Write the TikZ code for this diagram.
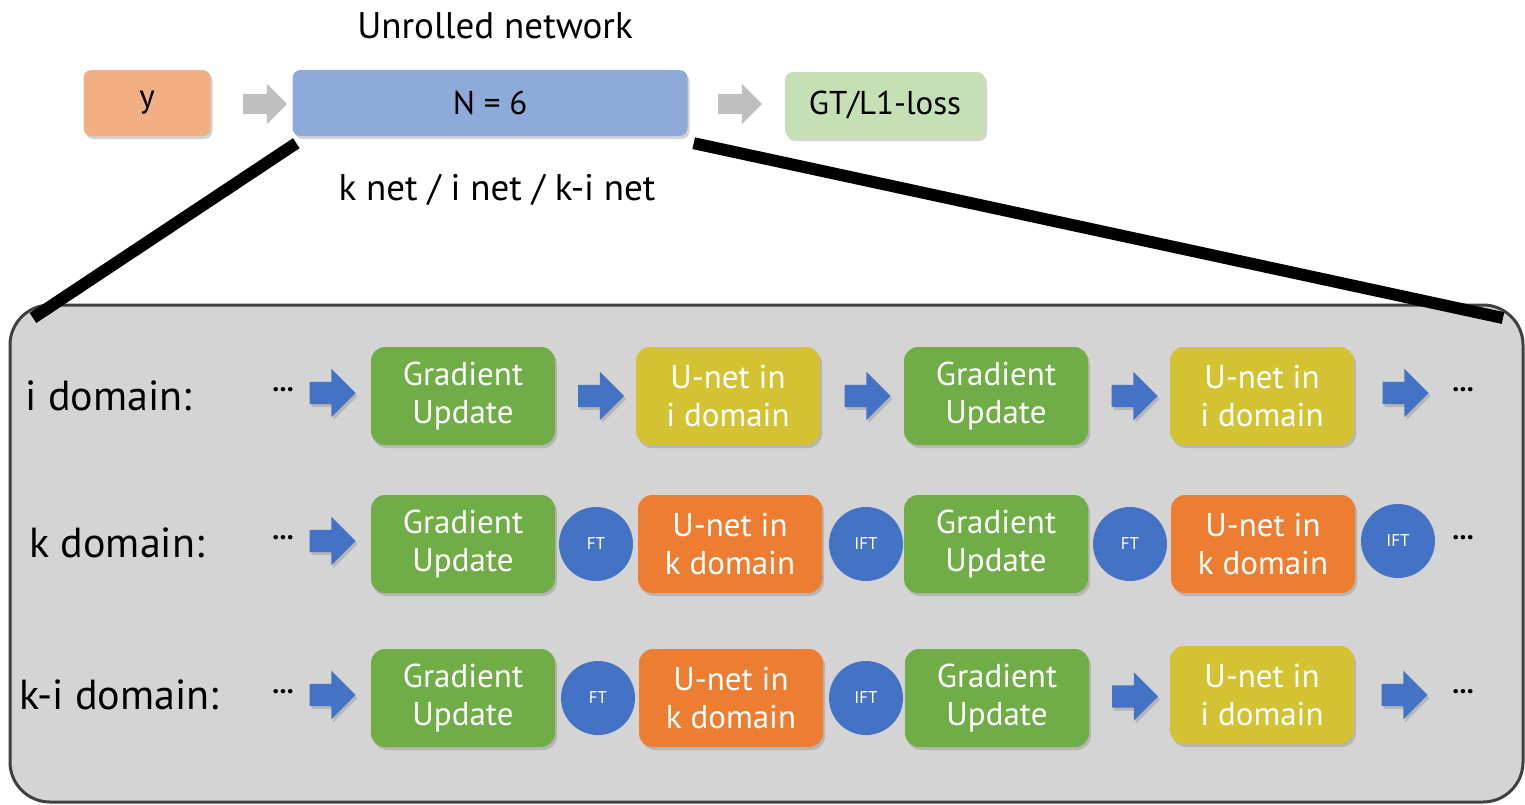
\documentclass[tikz,border=0pt]{standalone}
\usepackage{fontspec}
\setmainfont{PT Sans}
\usetikzlibrary{calc,positioning,shapes.arrows,shadows}

\definecolor{inputorange}{HTML}{F2AF84}
\definecolor{netblue}{HTML}{8EAADB}
\definecolor{lossgreen}{HTML}{C5E0B4}
\definecolor{gradgreen}{HTML}{70AD47}
\definecolor{unetyellow}{HTML}{D3C232}
\definecolor{unetorange}{HTML}{ED7D31}
\definecolor{ftblue}{HTML}{4472C4}
\definecolor{panelgray}{HTML}{D4D4D4}

\tikzset{
  softshadow/.style={drop shadow={opacity=.35,shadow xshift=2pt,shadow yshift=-3pt}},
  topbox/.style={rounded corners=8pt,minimum height=66pt,softshadow,
    font=\fontsize{33}{36}\selectfont},
  stagebox/.style={rounded corners=14pt,minimum width=184pt,minimum height=98pt,
    align=center,text=white,softshadow,font=\fontsize{33}{38}\selectfont},
  grad/.style={stagebox,fill=gradgreen},
  unetk/.style={stagebox,fill=unetorange},
  uneti/.style={stagebox,fill=unetyellow},
  ftnode/.style={circle,fill=ftblue,minimum size=74pt,inner sep=0pt,text=white,
    font=\fontsize{17}{17}\selectfont},
  barrow/.style={single arrow,fill=ftblue,minimum height=46pt,inner xsep=0pt,
    inner ysep=11pt,single arrow head extend=13pt,softshadow},
  grayarrow/.style={single arrow,fill=black!25,minimum height=44pt,inner xsep=0pt,
    inner ysep=10pt,single arrow head extend=10pt},
  rowlabel/.style={anchor=west,font=\fontsize{42}{44}\selectfont},
  dots/.style={font=\fontsize{28}{28}\selectfont\bfseries},
}

\begin{document}
\begin{tikzpicture}[x=1pt,y=-1pt]
  \useasboundingbox (0,0) rectangle (1525,804);

  % top level: input -> unrolled network -> loss
  \node[font=\fontsize{37}{40}\selectfont] (title) at (495,26) {Unrolled network};
  \node[topbox,fill=inputorange,minimum width=127pt] (ybox) at (147,103) {y};
  \node[topbox,fill=netblue,minimum width=395pt] (nbox) at (490,103) {N = 6};
  \node[topbox,fill=lossgreen,minimum width=200pt] (loss) at (885,105) {GT/L1-loss};
  \node[grayarrow] at (260,104) {};
  \node[grayarrow] at (735,104) {};
  \node[font=\fontsize{37}{40}\selectfont] (variants) at (497,190) {k net / i net / k-i net};

  % zoomed panel
  \draw[draw=black!75,line width=3pt,fill=panelgray,rounded corners=40pt]
    (10,305) rectangle (1523,802);
  \coordinate (zl) at (33,318);
  \coordinate (zr) at (1503,318);
  \draw[line width=12pt] ($(nbox.south west)+(4,7)$) -- (zl);
  \draw[line width=12pt] ($(nbox.south east)+(6,7)$) -- (zr);

  % i domain
  \node[rowlabel] (ilab) at (22,396) {i domain:};
  \node[dots] (idl) at (283,390) {...};
  \node[grad] (ig1) at (463,396) {Gradient\\Update};
  \node[uneti] (iu1) at (728,396) {U-net in\\i domain};
  \node[grad] (ig2) at (996,396) {Gradient\\Update};
  \node[uneti] (iu2) at (1262,396) {U-net in\\i domain};
  \node[dots] (idr) at (1463,390) {...};
  \node[barrow] at (327,393) {};
  \node[barrow] at ($(ig1.east)!.5!(iu1.west)$) {};
  \node[barrow] at ($(iu1.east)!.5!(ig2.west)$) {};
  \node[barrow] at ($(ig2.east)!.5!(iu2.west)$) {};
  \node[barrow] at (1400,393) {};

  % k domain
  \node[rowlabel] (klab) at (26,543) {k domain:};
  \node[dots] (kdl) at (283,538) {...};
  \node[grad] (kg1) at (463,544) {Gradient\\Update};
  \node[ftnode] (kft1) at (596,544) {FT};
  \node[unetk] (ku1) at (730,544) {U-net in\\k domain};
  \node[ftnode] (kift1) at (866,544) {IFT};
  \node[grad] (kg2) at (996,544) {Gradient\\Update};
  \node[ftnode] (kft2) at (1130,544) {FT};
  \node[unetk] (ku2) at (1263,544) {U-net in\\k domain};
  \node[ftnode] (kift2) at (1398,541) {IFT};
  \node[dots] (kdr) at (1463,538) {...};
  \node[barrow] at (327,541) {};

  % k-i domain
  \node[rowlabel] (kilab) at (16,695) {k-i domain:};
  \node[dots] (cdl) at (283,692) {...};
  \node[grad] (cg1) at (463,698) {Gradient\\Update};
  \node[ftnode] (cft1) at (598,698) {FT};
  \node[unetk] (cu1) at (731,698) {U-net in\\k domain};
  \node[ftnode] (cift1) at (866,698) {IFT};
  \node[grad] (cg2) at (997,698) {Gradient\\Update};
  \node[uneti] (cu2) at (1262,695) {U-net in\\i domain};
  \node[dots] (cdr) at (1463,692) {...};
  \node[barrow] at (327,695) {};
  \node[barrow] at ($(cg2.east)!.5!(cu2.west)$) {};
  \node[barrow] at (1399,695) {};
\end{tikzpicture}
\end{document}
